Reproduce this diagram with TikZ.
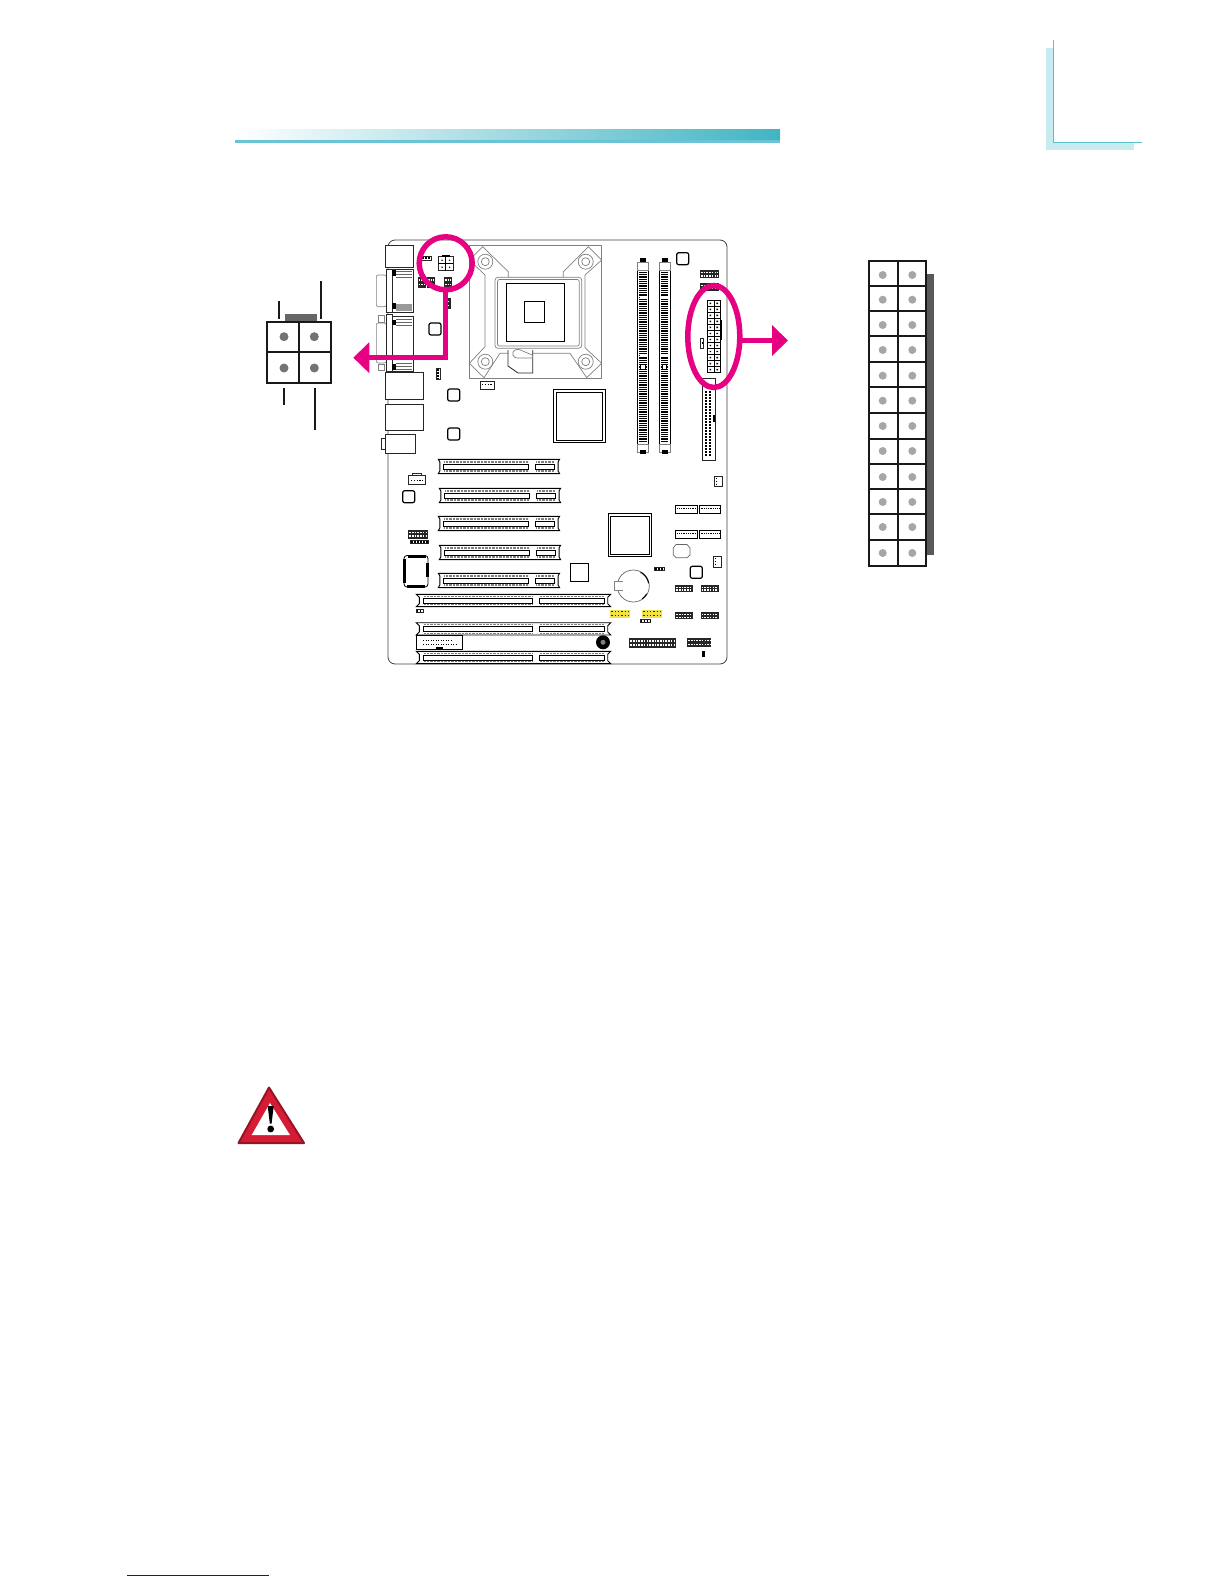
\documentclass[tikz,border=0pt]{standalone}
\usetikzlibrary{shapes.geometric, arrows.meta, positioning, calc}
\definecolor{markpink}{RGB}{230,0,130}
\definecolor{barteal}{RGB}{66,180,195}
\definecolor{barlight}{RGB}{104,196,214}
\definecolor{cornerlight}{RGB}{198,236,240}
\definecolor{cornerline}{RGB}{90,190,205}
\definecolor{pinyellow}{RGB}{240,226,70}
\definecolor{warnred}{RGB}{214,28,52}
\definecolor{linknavy}{RGB}{20,20,130}
\tikzset{
  boardline/.style={draw=black!75, line width=.8pt},
  partbox/.style={draw=black!85, fill=white, line width=.7pt},
  socketline/.style={draw=black!50, line width=.7pt},
  legendline/.style={draw=black!90, line width=2pt},
  legendpin/.style={circle, fill=#1, inner sep=0pt, minimum size=9pt},
  pinkmark/.style={draw=markpink, line width=5.5pt, inner sep=0pt, outer sep=0pt},
  pinkarrow/.style={draw=markpink, line width=5.5pt, -{Triangle[length=16pt,width=30pt]}},
  hdrpins/.style={draw=white, line width=1.3pt, dash pattern=on 1.6pt off 1.1pt},
  slotticks/.style={draw=black!50, line width=1.1pt, dash pattern=on .7pt off .7pt},
}
\newcommand{\blackhdr}[4]{
  \fill[black!85] (#1,#2) rectangle (#3,#4);
  \draw[hdrpins] (#1+1,{#2+(#4-#2)*.3}) -- (#3-1,{#2+(#4-#2)*.3});
  \draw[hdrpins] (#1+1,{#2+(#4-#2)*.7}) -- (#3-1,{#2+(#4-#2)*.7});
}
\newcommand{\smallhdr}[4]{
  \draw[partbox] (#1,#2) rectangle (#3,#4);
  \draw[draw=black, line width=2pt, dash pattern=on 1.5pt off 1.5pt] (#1+.7,{(#2+#4)/2}) -- (#3-.7,{(#2+#4)/2});
}
\newcommand{\roundchip}[2]{
  \draw[draw=black, fill=white, line width=1.2pt, rounded corners=2pt] (#1-6,#2-6) rectangle (#1+6,#2+6);
}
\newcommand{\pcislot}[2]{
  \draw[draw=black, fill=white, line width=.9pt] (#1,#2) -- ++(121.3,0) -- ++(-1.5,2.5) -- ++(0,9.3) -- ++(1.5,2.5) -- ++(-121.3,0) -- ++(1.5,-2.5) -- ++(0,-9.3) -- cycle;
  \draw[slotticks] (#1+6,#2+2.7) -- ++(84,0);
  \draw[slotticks] (#1+6,#2+11.7) -- ++(84,0);
  \draw[slotticks] (#1+98,#2+2.7) -- ++(17,0);
  \draw[slotticks] (#1+98,#2+11.7) -- ++(17,0);
  \draw[draw=black, line width=.8pt] (#1+5,#2+5.3) rectangle ++(85.3,4.7);
  \draw[draw=black, line width=.8pt] (#1+97,#2+5.3) rectangle ++(19,4.7);
}
\newcommand{\isaslot}[1]{
  \draw[draw=black, fill=white, line width=.9pt] (416.3,#1) -- (610.7,#1) -- ++(-3,3) -- ++(0,6.3) -- ++(3,3) -- (416.3,#1+12.3) -- ++(3,-3) -- ++(0,-6.3) -- cycle;
  \draw[slotticks] (424,#1+1.8) -- (532,#1+1.8);
  \draw[slotticks] (424,#1+10.5) -- (532,#1+10.5);
  \draw[slotticks] (540,#1+1.8) -- (604,#1+1.8);
  \draw[slotticks] (540,#1+10.5) -- (604,#1+10.5);
  \draw[draw=black, line width=.8pt] (423.3,#1+3.7) rectangle (532.7,#1+8.9);
  \draw[draw=black, line width=.8pt] (539.3,#1+3.7) rectangle (604,#1+8.9);
}
\newcommand{\memslot}[1]{
  \draw[draw=black, fill=white, line width=.9pt] (#1,270) rectangle ++(10.7,174);
  \draw[draw=black, line width=7.5pt, dash pattern=on .8pt off 1pt] (#1+5.35,272) -- ++(0,170);
  \fill[white] (#1+2,296) rectangle ++(7,1.5);
  \fill[white] (#1+2,354) rectangle ++(7,1.5);
  \draw[draw=black, fill=white, line width=.8pt] (#1+3.2,364.3) rectangle ++(4.2,5);
  \draw[draw=black!50, fill=white, line width=.6pt] (#1,262) rectangle ++(10.7,8);
  \draw[draw=black!50, fill=white, line width=.6pt] (#1,444) rectangle ++(10.7,8);
  \fill[black] (#1+2.5,258.3) rectangle ++(5.7,3.7);
  \fill[black] (#1+2.5,450) rectangle ++(5.7,4);
}
\begin{document}
\begin{tikzpicture}[x=1pt, y=-1pt]
\useasboundingbox (0,0) rectangle (1224,1584);

% page furniture
\fill[cornerlight] (1046,47.7) rectangle (1053.3,150);
\fill[cornerlight] (1046,142.7) rectangle (1134,150);
\draw[draw=cornerline, line width=1pt] (1053.3,40) -- (1053.3,142.7) -- (1142,142.7);
\shade[left color=white, right color=barteal] (235,130) rectangle (780,140);
\fill[barlight] (235,139.6) rectangle (780,142.5);
\draw[draw=linknavy, line width=1pt] (127,1575.3) -- (269,1575.3);

% board
\draw[boardline, rounded corners=7pt] (388,240) rectangle (727,664);

% back panel
\draw[partbox] (385.3,245.7) rectangle (413.3,267.3);
\draw[draw=black!50, fill=white, line width=.6pt, rounded corners=2pt] (376.3,275) rectangle (386.3,306.7);
\draw[partbox] (392.3,269.3) rectangle (413.3,312.3);
\draw[partbox] (386.3,269.3) rectangle (392.3,312.3);
\fill[black] (392.3,270) rectangle (396,276);
\fill[black] (392.3,303) rectangle (396,309);
\draw[draw=black!60, line width=.6pt] (396,271) -- (412,271) (396,274) -- (412,274) (396,277) -- (412,277);
\fill[black!40] (396,304) rectangle (412,311);
\draw[draw=black!50, fill=white, line width=.6pt, rounded corners=2pt] (376.3,323) rectangle (386.3,363);
\draw[draw=black!50, fill=white, line width=.6pt] (378,315) rectangle (384,322);
\draw[draw=black!50, fill=white, line width=.6pt] (378,364) rectangle (384,370);
\draw[partbox] (392,316.7) rectangle (413.3,371);
\draw[partbox] (386.3,314.3) rectangle (392,371);
\fill[black] (392,320) rectangle (396,325);
\fill[black] (392,364) rectangle (396,370);
\draw[draw=black!60, line width=.6pt] (396,319) -- (412,319) (396,322) -- (412,322) (396,325) -- (412,325);
\draw[draw=black!60, line width=.6pt] (396,363) -- (412,363) (396,366) -- (412,366) (396,369) -- (412,369);
\draw[partbox] (385.3,372.3) rectangle (423.3,399);
\draw[partbox] (385.3,404.3) rectangle (423.3,430.3);
\draw[partbox] (381.3,438.3) rectangle (385.7,449);
\draw[partbox] (385.7,434.3) rectangle (415.3,453.3);

% top left parts
\smallhdr{421.7}{256.7}{431.7}{260}
\draw[partbox] (438.3,256.7) rectangle (453.3,270.7);
\draw[draw=black, line width=.7pt] (445.8,256.7) -- (445.8,270.7) (438.3,263.7) -- (453.3,263.7);
\fill[black] (442,255) rectangle (449.5,256.7);
\foreach \px in {442,449.6}
  \foreach \py in {260.2,267.2}
    \fill[black] (\px,\py) circle (.8pt);
\blackhdr{417.7}{276.7}{425.5}{287.7}
\blackhdr{427}{276.7}{435}{287.7}
\blackhdr{444}{276.7}{452}{287.7}
\blackhdr{446.7}{298.3}{451}{309}
\draw[partbox] (436,368.3) rectangle (440,379);
\draw[draw=black, line width=2pt, dash pattern=on 1.5pt off 1.5pt] (438,369) -- (438,378.5);
\draw[partbox] (480,381) rectangle (494.3,389.7);
\draw[draw=black, line width=1pt, dash pattern=on 1.4pt off 1.4pt] (482,384.5) -- (493,384.5);
\roundchip{435}{329}
\roundchip{453.7}{395}
\roundchip{453.7}{434}
\roundchip{682.7}{258.7}
\roundchip{408.7}{496.7}
\roundchip{696.3}{572.3}

% CPU socket
\draw[socketline] (469.3,245.7) rectangle (601.7,378.3);
\draw[socketline] (482.7,246.7) -- (508.3,271.7) -- (508.3,277.7) -- (563.3,277.7) -- (563.3,271.7) -- (588.3,246.7) -- (601.7,260) -- (585,275) -- (585,347.7) -- (601.7,363.3) -- (586.7,377.7) -- (570,353.3) -- (500,353.3) -- (484,377.7) -- (469.3,363.3) -- (485,346.7) -- (485,275) -- (469.3,260) -- cycle;
\draw[socketline, fill=white, rounded corners=3pt] (495,277.3) rectangle (581.7,348.3);
\draw[socketline, rounded corners=2pt] (497.5,279.5) rectangle (579.2,346);
\draw[draw=black, fill=white, line width=.8pt] (506,283.3) rectangle (564.7,341.7);
\draw[draw=black, line width=.9pt] (524.3,301.3) rectangle (544.7,322);
\foreach \cx/\cy in {485.3/261.7, 585.7/261.7, 485.3/361.7, 585.7/361.7}{
  \draw[socketline, fill=white] (\cx,\cy) circle (7.5pt);
  \draw[socketline] (\cx,\cy) circle (4pt);
}
\draw[draw=black!85, fill=white, line width=.8pt] (508,350) -- (508,366) -- (518,373) -- (532.7,373) -- (532.7,350);
\draw[socketline, fill=white, rounded corners=3pt] (532,355) -- (517,348.5) -- (512,352) -- (514,358) -- (532,358);

% chips
\draw[draw=black, line width=.9pt] (553.3,389.7) rectangle (605.3,442.3);
\draw[draw=black, line width=.8pt] (556,392.3) rectangle (602.7,440);
\draw[draw=black, line width=.9pt] (608.3,513.3) rectangle (651.7,556.7);
\draw[draw=black, line width=.8pt] (610.7,516) rectangle (649,554);
\draw[draw=black, line width=.8pt] (570.3,563.3) rectangle (588.7,581.7);
\draw[draw=black, rounded corners=3pt, line width=.8pt] (404,555.5) rectangle (428,587);
\fill[black] (407.7,554.5) rectangle (426,557.5);
\fill[black] (406.7,584.7) rectangle (425,587.7);
\fill[black] (403,559) rectangle (406,583);
\fill[black] (426,563) rectangle (428.7,577);
\draw[draw=black!60, line width=.7pt] (676,544.5) -- (687,544.5) -- (690,548) -- (690,555) -- (687,557.7) -- (676,557.7) -- (673.3,555) -- (673.3,548) -- cycle;

% memory slots
\memslot{637.6}
\memslot{659.3}

% IDE and floppy
\draw[partbox] (702.3,378.7) rectangle (715.3,460.3);
\foreach \py in {391,394,...,456}{
  \fill[black] (705.2,\py) rectangle ++(2,1.6);
  \fill[black] (708.6,\py) rectangle ++(2,1.6);
}
\fill[black] (713.3,415) rectangle (715.3,422);
\blackhdr{700}{270.3}{718.7}{278.3}
\blackhdr{700}{283.3}{718.7}{291}
\smallhdr{700.8}{338}{703}{348}

% main power on the board
\draw[draw=black, fill=white, line width=.8pt] (707.3,300.3) rectangle (720.7,372.7);
\draw[draw=black, line width=.7pt] (714,300.3) -- (714,372.7);
\foreach \boardrow in {0,...,11}{
  \draw[draw=black, line width=.6pt] (707.3,{300.3+6.03*\boardrow}) -- (720.7,{300.3+6.03*\boardrow});
  \fill[black] (709.6,{302.6+6.03*\boardrow}) rectangle ++(1.6,1.4) (716.4,{302.6+6.03*\boardrow}) rectangle ++(1.6,1.4);
}
\fill[black] (720.7,320) rectangle (721.5,340);

% expansion slots
\pcislot{438.3}{459.3}
\pcislot{439.3}{488.3}
\pcislot{438.3}{516.3}
\pcislot{439.3}{545.3}
\pcislot{438.3}{573.3}
\isaslot{594.3}
\isaslot{622.7}
\isaslot{651.3}
\draw[draw=black, fill=white, line width=.9pt] (416.3,635.3) rectangle (462.7,649);
\draw[draw=black, line width=1pt, dash pattern=on 1.3pt off 1.2pt] (423,640) -- (452,640);
\draw[draw=black, line width=1pt, dash pattern=on 1.3pt off 1.2pt] (423,644.5) -- (457,644.5);
\fill[black] (435.7,647) rectangle (443,649);
\fill[black] (603,642.3) circle (7pt);
\fill[black!50] (603,642.3) circle (2.5pt);

% battery
\draw[draw=black!60, fill=white, line width=.7pt] (633.3,586) circle (16pt);
\draw[draw=black!50, fill=white, line width=.6pt] (623,581.7) -- (614.3,581.7) -- (614.3,590.7) -- (623,590.7);
\draw[draw=black, line width=1pt, domain=10:62, samples=12, variable=\t] plot ({633.3+15.5*cos(\t)},{586-15.5*sin(\t)});
\draw[draw=black, line width=1pt, domain=-55:-30, samples=8, variable=\t] plot ({633.3+15.5*cos(\t)},{586-15.5*sin(\t)});

% small connectors
\draw[partbox] (408.3,475.5) rectangle (425.7,484);
\draw[partbox] (412,473.3) rectangle (421,475.5);
\draw[draw=black, line width=1pt, dash pattern=on 1.4pt off 1.4pt] (411,480) -- (423,480);
\blackhdr{408.3}{530}{427.7}{538.7}
\smallhdr{410.7}{540}{428.3}{543.7}
\draw[partbox] (714.3,476.7) rectangle (722.7,486.7);
\draw[draw=black, line width=1pt, dash pattern=on 1.4pt off 1.4pt] (716,478) -- (716,486);
\draw[partbox] (713.3,556.7) rectangle (721.7,567.3);
\draw[draw=black, line width=1pt, dash pattern=on 1.4pt off 1.4pt] (715,558) -- (715,566);
\foreach \satax/\satay in {675.7/505.3, 699/505.3, 675.7/530.3, 699/530.3}{
  \draw[draw=black, fill=white, line width=.9pt] (\satax,\satay) rectangle ++(21.8,8);
  \draw[draw=black, line width=.8pt, dash pattern=on .9pt off .9pt] (\satax+1.5,\satay+3.2) -- ++(19,0);
}
\blackhdr{675.3}{585}{693.3}{592.3}
\blackhdr{700.7}{585}{718.7}{592.3}
\blackhdr{675.3}{612.3}{693.3}{619.3}
\blackhdr{700.7}{612.3}{718.7}{619.3}
\blackhdr{629.3}{638.3}{675.7}{647.7}
\blackhdr{687.3}{638.3}{711}{646.7}
\fill[black] (702,651) rectangle (705,656.7);
\smallhdr{654.3}{567.3}{664.7}{570.7}
\smallhdr{640}{619}{650.7}{622.7}
\smallhdr{416}{609.3}{423.3}{612.7}
\foreach \yelx in {610.3,642.3}{
  \fill[pinyellow] (\yelx,609.7) rectangle ++(19.4,8);
  \draw[draw=black!85, line width=1.3pt, dash pattern=on 1.5pt off 1.8pt] (\yelx+1,611.7) -- ++(17.4,0);
  \draw[draw=black!85, line width=1.3pt, dash pattern=on 1.5pt off 1.8pt] (\yelx+1,615.7) -- ++(17.4,0);
}

% four pin connector
\fill[black!60] (285,314) rectangle (317,322.7);
\draw[legendline, line width=2.2pt] (267.3,322) rectangle (330.7,382.7);
\draw[legendline] (299,322) -- (299,382.7) (267.3,352) -- (330.7,352);
\node[legendpin=black!55] (fourpina) at (284,336.7) {};
\node[legendpin=black!55] (fourpinb) at (314.3,336.7) {};
\node[legendpin=black!55] (fourpinc) at (284,368) {};
\node[legendpin=black!55] (fourpind) at (314.3,368) {};
\draw[legendline] (279.3,301.3) -- (279.3,318.7);
\draw[legendline] (321.3,281.3) -- (321.3,318.7);
\draw[legendline] (284.3,388.3) -- (284.3,404.7);
\draw[legendline] (315.3,388.3) -- (315.3,430);

% main power connector
\fill[black!65] (926,274) rectangle (934,554.7);
\draw[legendline, line width=2.2pt] (869,261) rectangle (926,565.7);
\draw[legendline] (898,261) -- (898,565.7);
\foreach \rowy in {286,311.3,336,361.7,386.7,412.7,438.7,463.7,489,514.3,540}
  \draw[legendline] (869,\rowy) -- (926,\rowy);
\foreach \rowy [count=\rown] in {275,299.7,325,350,375.7,400.7,426,451,477,502,527,553}{
  \node[legendpin=black!35, minimum size=8pt] (pinleft\rown) at (882.7,\rowy) {};
  \node[legendpin=black!35, minimum size=8pt] (pinright\rown) at (912.3,\rowy) {};
}

% pink marks
\node[pinkmark, circle, minimum size=53pt] (fourmark) at (445.7,263.3) {};
\node[pinkmark, ellipse, minimum width=52pt, minimum height=102pt] (mainmark) at (713.8,336.5) {};
\coordinate (fourtip) at (353.3,357.7);
\coordinate (maintip) at (788,340.5);
\draw[pinkarrow] (fourmark.270) |- (fourtip);
\draw[pinkarrow] (maintip -| mainmark.east) -- (maintip);

% warning sign
\draw[draw=warnred!70!black, fill=warnred, line width=2pt, line join=round] (269,1087.5) -- (304,1143) -- (238.5,1143) -- cycle;
\fill[white] (270,1103) -- (290,1135) -- (251.7,1135) -- cycle;
\fill[black] (267.7,1106) -- (273.7,1106) -- (271.6,1123.5) -- (269.8,1123.5) -- cycle;
\fill[black] (270.7,1129) circle (3.4pt);
\end{tikzpicture}
\end{document}
